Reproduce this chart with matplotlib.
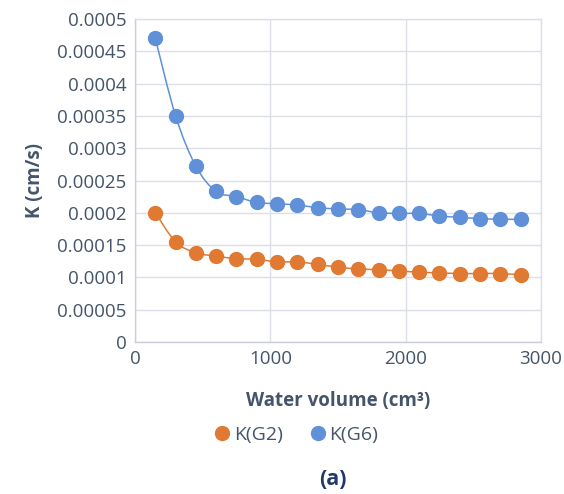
import matplotlib
matplotlib.use("Agg")
import matplotlib.pyplot as plt
from matplotlib.path import Path
from matplotlib.patches import PathPatch
import numpy as np

plt.rcParams['font.family'] = ['Open Sans', 'DejaVu Sans']

# water volume (cm3)
volume = [150, 300, 450, 600, 750, 900, 1050, 1200, 1350, 1500,
          1650, 1800, 1950, 2100, 2250, 2400, 2550, 2700, 2850]

# permeability K (cm/s)
k_g2 = [0.000200, 0.000155, 0.000138, 0.000133, 0.000129, 0.000128, 0.000124,
        0.000124, 0.000120, 0.000116, 0.000113, 0.000112, 0.000110, 0.000108,
        0.000107, 0.000106, 0.000106, 0.000106, 0.000104]
k_g6 = [0.000470, 0.000350, 0.000272, 0.000233, 0.000225, 0.000216, 0.000214,
        0.000212, 0.000208, 0.000206, 0.000205, 0.000200, 0.000199, 0.000199,
        0.000195, 0.000193, 0.000191, 0.000190, 0.000190]

orange = '#E07A32'
blue = '#5F90D8'
text_col = '#44546A'


def smooth_path(x, y):
    # catmull-rom style bezier through the points (like a spreadsheet "smoothed line")
    x = np.asarray(x, float)
    y = np.asarray(y, float)
    verts = [(x[0], y[0])]
    codes = [Path.MOVETO]
    n = len(x)
    for i in range(n - 1):
        x0, y0 = (x[i - 1], y[i - 1]) if i > 0 else (x[i], y[i])
        x3, y3 = (x[i + 2], y[i + 2]) if i + 2 < n else (x[i + 1], y[i + 1])
        c1 = (x[i] + (x[i + 1] - x0) / 6, y[i] + (y[i + 1] - y0) / 6)
        c2 = (x[i + 1] - (x3 - x[i]) / 6, y[i + 1] - (y3 - y[i]) / 6)
        verts += [c1, c2, (x[i + 1], y[i + 1])]
        codes += [Path.CURVE4] * 3
    return Path(verts, codes)


fig = plt.figure(figsize=(5.64, 4.94), dpi=100)
ax = fig.add_axes([0.2394, 0.3077, 0.7196, 0.6538])

for yv, col, lab in [(k_g2, orange, 'K(G2)'), (k_g6, blue, 'K(G6)')]:
    ax.add_patch(PathPatch(smooth_path(volume, yv), fill=False, edgecolor=col, lw=1.1, zorder=2))
    ax.plot(volume, yv, 'o', color=col, ms=10, mec=col, label=lab, zorder=3)

ax.set_xlim(0, 3000)
ax.set_ylim(0, 0.0005)
ax.set_xticks([0, 1000, 2000, 3000])
ax.set_xticklabels(['0', '1000', '2000', '3000'])
yt = np.arange(0, 0.00051, 0.00005)
ax.set_yticks(yt)
ax.set_yticklabels(['0', '0.00005', '0.0001', '0.00015', '0.0002', '0.00025',
                    '0.0003', '0.00035', '0.0004', '0.00045', '0.0005'])
ax.grid(True, color='#DCDFE6', lw=1)
ax.set_axisbelow(True)
for s in ax.spines.values():
    s.set_color('#DCDFE6')
    s.set_linewidth(1)
ax.spines['left'].set_color('#C9CED8')
ax.spines['bottom'].set_color('#C9CED8')
ax.tick_params(length=0, labelsize=13.5, colors=text_col, pad=6)

ax.set_xlabel('Water volume (cm³)', fontsize=13.5, fontweight='bold', color=text_col, labelpad=16)
ax.set_ylabel('K (cm/s)', fontsize=13.5, fontweight='bold', color=text_col, labelpad=9)

fig.legend(loc='center', bbox_to_anchor=(0.524, 0.12), ncol=2, frameon=False,
           fontsize=14, labelcolor=text_col, handletextpad=0.1, columnspacing=1.3,
           handlelength=1.0, markerscale=1.0)
fig.text(0.591, 0.03, '(a)', fontsize=15.5, fontweight='bold', color='#1F3A68',
         ha='center', va='center')

fig.savefig('out.png', dpi=100)
